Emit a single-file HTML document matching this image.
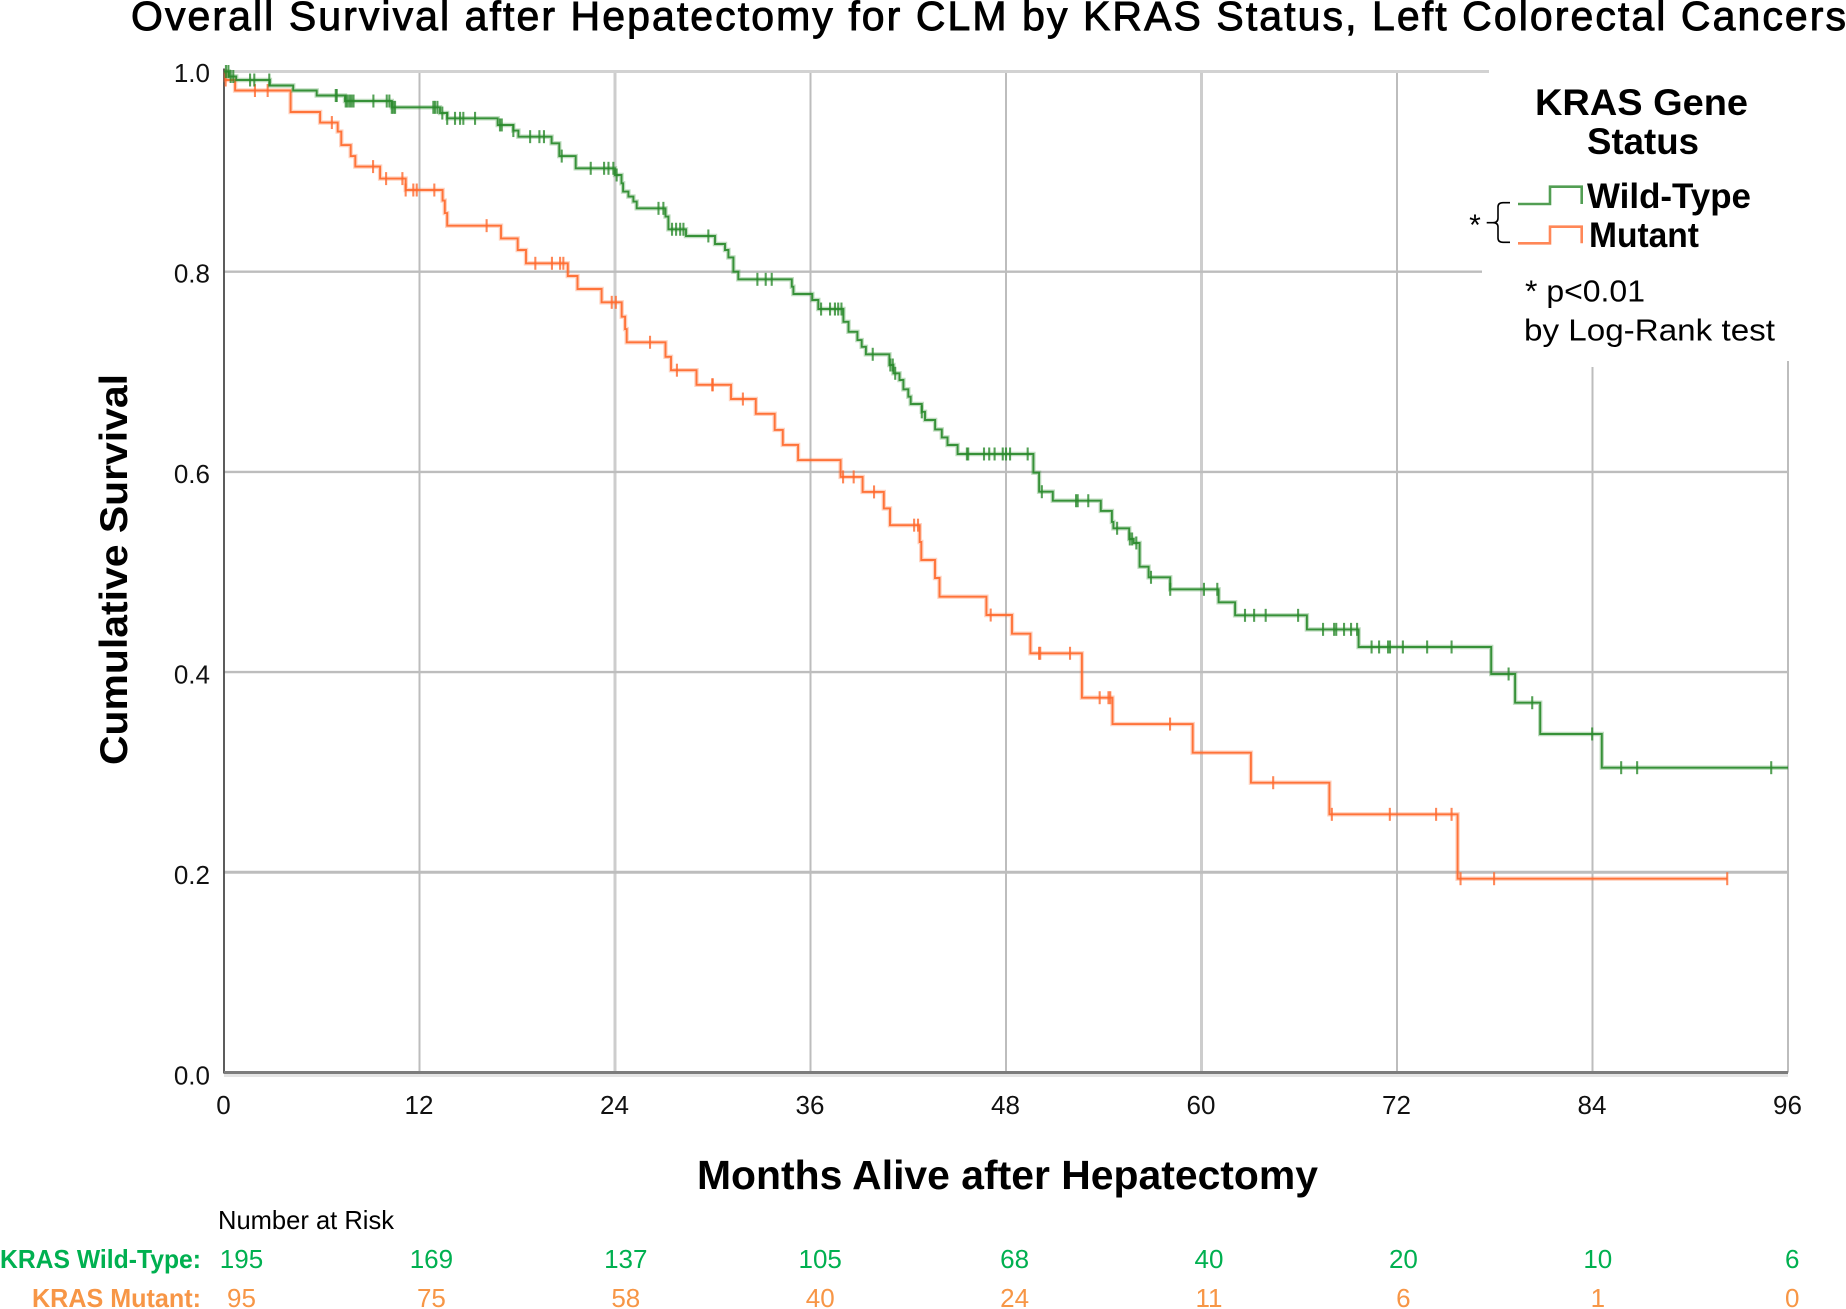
<!DOCTYPE html>
<html lang="en">
<head>
<meta charset="utf-8">
<title>Overall Survival after Hepatectomy for CLM by KRAS Status</title>
<style>
html,body{margin:0;padding:0;background:#fff;}
svg{display:block;font-family:"Liberation Sans",Arial,sans-serif;}
</style>
</head>
<body>
<svg id="chart" width="1846" height="1309" viewBox="0 0 1846 1309" xmlns="http://www.w3.org/2000/svg">
  <rect x="0" y="0" width="1846" height="1309" fill="#fff"/>
  <text x="131" y="30" font-size="41" fill="#000" stroke="#000" stroke-width="0.9" textLength="1715" lengthAdjust="spacing">Overall Survival after Hepatectomy for CLM by KRAS Status, Left Colorectal Cancers</text>
  <g id="grid"></g>
  <rect x="1482" y="74" width="364" height="287" fill="#fff"/>
  <rect x="1489" y="60" width="357" height="20" fill="#fff"/>
  <rect x="1589" y="361" width="10" height="6" fill="#fff"/>
  <g id="axes"></g>
  <g id="series"></g>
  <g id="tick-labels"></g>

  <text transform="translate(127,765) rotate(-90)" font-size="39" font-weight="bold" fill="#000" textLength="391" lengthAdjust="spacingAndGlyphs">Cumulative Survival</text>
  <text x="697" y="1189" font-size="41" font-weight="bold" fill="#000" textLength="621" lengthAdjust="spacingAndGlyphs">Months Alive after Hepatectomy</text>

  <g>
    <text x="1535" y="115" font-size="37" font-weight="bold" textLength="213" lengthAdjust="spacingAndGlyphs">KRAS Gene</text>
    <text x="1587" y="154" font-size="37" font-weight="bold" textLength="112" lengthAdjust="spacingAndGlyphs">Status</text>
    <path d="M1518 204H1550V186.7H1581.7V204" fill="none" stroke="#3f9440" stroke-width="2.6" opacity="0.9"/>
    <text x="1587" y="208" font-size="35" font-weight="bold" textLength="164" lengthAdjust="spacingAndGlyphs">Wild-Type</text>
    <path d="M1518 243.3H1550V226.7H1581.7V243.3" fill="none" stroke="#ff7a45" stroke-width="2.6" opacity="0.9"/>
    <text x="1589" y="247" font-size="35" font-weight="bold" textLength="110" lengthAdjust="spacingAndGlyphs">Mutant</text>
    <path d="M1510 202.7H1503Q1498 202.7 1498 207V218Q1498 222.7 1493 222.7H1486.7H1493Q1498 222.7 1498 227V238Q1498 242.3 1503 242.3H1510" fill="none" stroke="#000" stroke-width="1.6"/>
    <text x="1475" y="235" font-size="30" text-anchor="middle">*</text>
    <text x="1525" y="301.7" font-size="31" textLength="120" lengthAdjust="spacingAndGlyphs">* p&lt;0.01</text>
    <text x="1524" y="340.7" font-size="31" textLength="251" lengthAdjust="spacingAndGlyphs">by Log-Rank test</text>
  </g>

  <g>
    <text x="218" y="1229" font-size="26" fill="#000" textLength="176" lengthAdjust="spacingAndGlyphs">Number at Risk</text>
    <text x="0" y="1268" font-size="26" font-weight="bold" fill="#00b050" textLength="201" lengthAdjust="spacingAndGlyphs">KRAS Wild-Type:</text>
    <text x="32" y="1307" font-size="26" font-weight="bold" fill="#f79646" textLength="169" lengthAdjust="spacingAndGlyphs">KRAS Mutant:</text>
    <g id="at-risk-values"></g>
  </g>
</svg>
<script>
/* Axis ticks */
const xTicks = [0, 12, 24, 36, 48, 60, 72, 84, 96];
const yTicks = [0, 0.2, 0.4, 0.6, 0.8, 1.0];

/* Wild-type Kaplan-Meier steps */
const wildTypeMonths = [0.3,0.75,2.82,4.25,5.69,7.43,10.3,13.26,13.7,16.8,17.76,18.07,20.11,20.58,21.59,24.0,24.4,24.5,24.82,25.13,25.33,27.1,27.28,28.36,30.14,30.75,30.96,31.27,31.57,34.85,34.95,36.11,36.48,38.02,38.33,38.88,39.14,39.4,40.84,41.09,41.46,41.7,42.0,42.15,42.83,43.03,43.65,44.06,44.41,45.03,49.68,50.03,50.87,53.82,54.5,54.59,55.56,55.84,56.2,56.75,58.08,61.05,62.06,66.47,69.64,77.78,79.25,80.79,84.57];
const wildTypeSurvival = [0.995,0.9915,0.986,0.981,0.976,0.9705,0.9642,0.9585,0.9532,0.9466,0.941,0.9349,0.9283,0.9155,0.9033,0.8966,0.8883,0.88,0.875,0.87,0.8633,0.855,0.8424,0.8357,0.8277,0.8217,0.8143,0.80,0.7924,0.785,0.7777,0.7717,0.7627,0.75,0.74,0.7317,0.725,0.7175,0.7068,0.6985,0.6918,0.6825,0.6751,0.6678,0.66,0.6518,0.6425,0.6345,0.6269,0.6179,0.5992,0.5802,0.5712,0.561,0.55,0.5437,0.533,0.529,0.5053,0.4947,0.4827,0.4697,0.4567,0.4427,0.4251,0.3981,0.3694,0.3382,0.3045];
const wildTypeEnd = 96;
const wildTypeCensored = [0.12,0.27,0.41,0.57,1.6,1.86,2.78,6.86,6.92,7.47,7.57,7.7,7.82,7.95,9.17,9.99,10.15,10.3,10.4,10.5,12.85,12.95,13.1,13.4,13.7,14.18,14.49,14.69,15.41,16.94,17.05,17.76,18.79,19.36,19.64,20.73,22.51,23.33,23.6,23.9,24.1,26.67,26.97,27.5,27.75,28.0,28.2,29.73,32.74,33.25,33.62,36.65,37.2,37.5,37.7,37.9,39.82,40.9,41.05,41.2,42.83,45.6,45.68,46.65,46.97,47.3,47.8,48.0,48.25,49.33,50.2,52.3,52.4,53.05,54.82,55.6,55.74,56.0,56.9,58.08,60.15,60.97,62.67,63.23,63.94,65.93,67.46,68.14,68.27,68.75,69.18,69.55,70.44,70.9,71.45,71.57,72.36,73.85,75.35,78.85,80.3,83.98,85.76,86.74,94.97];

/* Mutant Kaplan-Meier steps */
const mutantMonths = [0.1,0.68,4.09,5.9,6.98,7.2,7.78,8.06,9.58,11.15,13.42,13.55,13.7,17.0,18.03,18.54,21.1,21.7,23.18,24.41,24.62,24.72,27.1,27.44,29.0,31.12,32.64,33.8,34.3,35.24,37.85,39.2,40.5,40.88,42.7,42.8,43.64,43.92,46.8,48.37,49.5,52.66,54.54,59.46,63.03,67.85,75.72];
const mutantSurvival = [0.9915,0.981,0.9595,0.949,0.94,0.9265,0.9155,0.905,0.893,0.8816,0.871,0.8585,0.846,0.8333,0.8217,0.8084,0.7957,0.7827,0.7694,0.755,0.7427,0.7295,0.715,0.7016,0.687,0.6728,0.658,0.642,0.627,0.6118,0.595,0.58,0.5635,0.5468,0.53,0.512,0.494,0.4753,0.457,0.4384,0.4188,0.3744,0.3481,0.3195,0.2895,0.2579,0.1936];
const mutantEnd = 92.27;
const mutantCensored = [0.1,1.9,2.68,6.62,9.15,9.95,10.95,11.15,11.62,11.83,12.91,16.12,19.11,20.13,20.63,20.83,23.8,24.05,26.15,27.8,29.97,30.0,31.85,38.0,38.65,39.9,42.36,42.6,47.06,50.03,50.1,51.93,53.75,54.29,54.4,58.07,64.4,68.0,71.56,74.4,75.35,75.9,77.96,92.27];

/* Number at risk */
const wildTypeAtRisk = ["195","169","137","105","68","40","20","10","6"];
const mutantAtRisk = ["95","75","58","40","24","11","6","1","0"];

const NS = "http://www.w3.org/2000/svg";
function xScale(m) { return 224 + (m / 96) * 1564; }
function yScale(s) { return 1072.5 - s * 1001; }
function make(tag, attrs, parent) {
  const el = document.createElementNS(NS, tag);
  for (const k in attrs) el.setAttribute(k, attrs[k]);
  parent.appendChild(el);
  return el;
}
function survivalAt(m, months, survival) {
  let s = 1;
  for (let i = 0; i < months.length; i++) { if (months[i] <= m) s = survival[i]; }
  return s;
}
function stepPath(months, survival, end) {
  let d = "M" + xScale(0) + " " + yScale(1);
  for (let i = 0; i < months.length; i++) {
    d += "H" + xScale(months[i]).toFixed(1) + "V" + yScale(survival[i]).toFixed(1);
  }
  return d + "H" + xScale(end).toFixed(1);
}

const gridG = document.getElementById("grid");
xTicks.forEach(function (m) {
  if (m === 0) return;
  const line = make("line", { x1: xScale(m), x2: xScale(m), y1: yScale(1), y2: yScale(0), stroke: m === 24 || m === 60 ? "#cdcdcd" : "#bdbdbd", "stroke-width": m === 24 || m === 60 ? 3 : 2 }, gridG);
  
  
});
yTicks.forEach(function (s) {
  if (s === 0) return;
  const line = make("line", { x1: xScale(0), x2: xScale(96), y1: yScale(s), y2: yScale(s), stroke: s === 1 ? "#d2d2d2" : "#bdbdbd", "stroke-width": s === 0.2 || s === 1 ? 3 : 2.4 }, gridG);
  
  
});

const axesG = document.getElementById("axes");
const yAxisLine = make("line", { x1: xScale(0), x2: xScale(0), y1: yScale(1) - 3, y2: yScale(0) + 1, stroke: "#4a4a4a", "stroke-width": 1.8 }, axesG);


const xAxisShadow = make("line", { x1: xScale(0), x2: xScale(96), y1: yScale(0) + 3, y2: yScale(0) + 3, stroke: "#e4e4e4", "stroke-width": 3 }, axesG);


const xAxisLine = make("line", { x1: xScale(0), x2: xScale(96), y1: yScale(0), y2: yScale(0), stroke: "#7c7c7c", "stroke-width": 3 }, axesG);



function drawSeries(name, colour, months, survival, end, censored) {
  const group = make("g", {}, document.getElementById("series"));
  
  
  const halo = make("path", { d: stepPath(months, survival, end), fill: "none", stroke: colour, "stroke-width": 4.4, opacity: 0.3 }, group);
  
  
  const curve = make("path", { d: stepPath(months, survival, end), fill: "none", stroke: colour, "stroke-width": 1.9, opacity: 0.92 }, group);
  
  
  censored.forEach(function (m) {
    const s = survivalAt(m, months, survival);
    const mark = make("line", { x1: xScale(m), x2: xScale(m), y1: yScale(s) - 6.5, y2: yScale(s) + 6.5, stroke: colour, "stroke-width": 2.1, opacity: 0.8 }, group);
    
    
  });
}
drawSeries("mutant", "#ff6a2e", mutantMonths, mutantSurvival, mutantEnd, mutantCensored);
drawSeries("wild-type", "#2a8a2c", wildTypeMonths, wildTypeSurvival, wildTypeEnd, wildTypeCensored);

const labelsG = document.getElementById("tick-labels");
yTicks.forEach(function (s) {
  const t = make("text", { x: 210, y: yScale(s) + 12 - s * 1.5, "font-size": 26, "text-anchor": "end", fill: "#111" }, labelsG);
  
  
  t.textContent = s.toFixed(1);
});
xTicks.forEach(function (m) {
  const t = make("text", { x: xScale(m) - 0.5, y: 1114, "font-size": 26, "text-anchor": "middle", fill: "#111" }, labelsG);
  
  
  t.textContent = String(m);
});

/* At-risk table columns are spaced slightly tighter than the axis */
function riskColumn(i) { return 237 + 194.4 * i + (i === 0 ? 4.5 : 0); }
const riskG = document.getElementById("at-risk-values");
function drawRiskRow(values, baseline, colour, name) {
  values.forEach(function (v, i) {
    const t = make("text", { x: riskColumn(i), y: baseline, "font-size": 26, "text-anchor": "middle", fill: colour }, riskG);
    
    
    t.textContent = v;
  });
}
drawRiskRow(wildTypeAtRisk, 1268, "#00b050", "at-risk-value-wild-type");
drawRiskRow(mutantAtRisk, 1307, "#f79646", "at-risk-value-mutant");
</script>
</body>
</html>
